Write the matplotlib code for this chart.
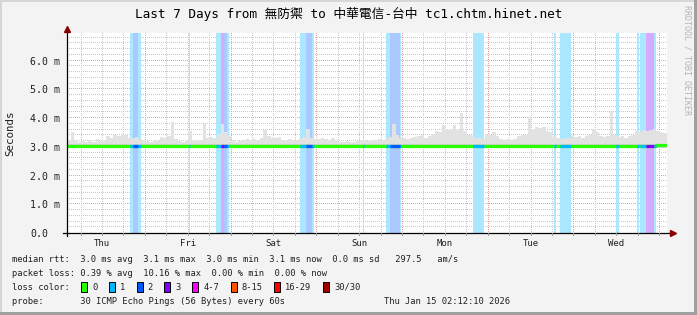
import numpy as np
import matplotlib
matplotlib.use("Agg")
from matplotlib import pyplot as plt
from matplotlib.patches import Rectangle

plt.rcParams['font.family'] = ['DejaVu Sans Mono', 'Noto Sans CJK TC']

########
# Data #
########

title = "Last 7 Days from 無防禦 to 中華電信-台中 tc1.chtm.hinet.net"
day_names = ["Thu", "Fri", "Sat", "Sun", "Mon", "Tue", "Wed"]
start_clock = 2 + 12 / 60 + 10 / 3600   # graph starts at 02:12:10
span_hours = 168

# top of the smoke, one value per hour (ms)
smoke_hi = [
    3.20, 3.52, 3.22, 3.18, 3.20, 3.16, 3.22, 3.18, 3.28, 3.20, 3.22, 3.36,
    3.30, 3.42, 3.38, 3.45, 3.40, 3.32, 3.30, 3.34, 3.28, 3.22, 3.20, 3.18,
    3.22, 3.20, 3.34, 3.30, 3.38, 3.86, 3.26, 3.20, 3.18, 3.22, 3.56, 3.22,
    3.20, 3.24, 3.78, 3.32, 3.34, 3.30, 3.46, 3.80, 3.50, 3.36, 3.22, 3.18,
    3.20, 3.22, 3.26, 3.24, 3.28, 3.22, 3.30, 3.60, 3.36, 3.32, 3.30, 3.34,
    3.24, 3.22, 3.26, 3.24, 3.22, 3.30, 3.34, 3.62, 3.30, 3.28, 3.26, 3.30,
    3.28, 3.24, 3.30, 3.22, 3.18, 3.16, 3.20, 3.18, 3.16, 3.20, 3.24, 3.22,
    3.20, 3.24, 3.22, 3.26, 3.22, 3.28, 3.34, 3.80, 3.40, 3.30, 3.32, 3.28,
    3.30, 3.34, 3.36, 3.40, 3.32, 3.38, 3.44, 3.56, 3.50, 3.76, 3.58, 3.62,
    3.76, 3.60, 4.19, 3.55, 3.42, 3.40, 3.30, 3.32, 3.28, 3.42, 3.40, 3.50,
    3.36, 3.26, 3.24, 3.28, 3.22, 3.26, 3.38, 3.42, 3.40, 4.02, 3.62, 3.70,
    3.64, 3.68, 3.56, 3.50, 3.34, 3.30, 3.28, 3.32, 3.30, 3.36, 3.34, 3.38,
    3.32, 3.36, 3.40, 3.62, 3.50, 3.36, 3.34, 3.38, 4.26, 3.40, 3.34, 3.36,
    3.32, 3.38, 3.40, 3.56, 3.52, 3.60, 3.55, 3.58, 3.62, 3.54, 3.50, 3.48,
]
median = [3.03] * 165 + [3.07, 3.07, 3.07]
smoke_lo = 2.97
smoke_core = 3.10

# loss periods (hours from start) and loss count
loss_start = [17.6, 18.5, 34.1, 41.7, 43.1, 44.0, 65.2, 66.9, 82.8, 89.3,
              90.5, 113.7, 136.4, 138.1, 153.7, 159.6, 160.5, 161.3, 162.1, 164.4]
loss_end = [20.7, 19.9, 34.5, 45.4, 44.0, 44.8, 69.2, 68.6, 83.2, 93.5,
            93.2, 116.8, 137.0, 141.1, 154.6, 160.2, 161.3, 162.1, 164.4, 165.0]
loss_level = [1, 2, 1, 1, 3, 2, 1, 2, 1, 1, 2, 1, 1, 1, 1, 1, 1, 1, 3, 1]

loss_names = ["0", "1", "2", "3", "4-7", "8-15", "16-29", "30/30"]
loss_colors = ["#26ff00", "#00b8ff", "#0059ff", "#7e00ff",
               "#ff00ff", "#ff5500", "#ff0000", "#a00000"]

y_ticks = [0, 1, 2, 3, 4, 5, 6]
y_labels = ["0.0", "1.0 m", "2.0 m", "3.0 m", "4.0 m", "5.0 m", "6.0 m"]
y_top = 6.96

rtt_line = "median rtt:  3.0 ms avg  3.1 ms max  3.0 ms min  3.1 ms now  0.0 ms sd   297.5   am/s"
loss_line = "packet loss: 0.39 % avg  10.16 % max  0.00 % min  0.00 % now"
probe_line = "probe:       30 ICMP Echo Pings (56 Bytes) every 60s"
stamp = "Thu Jan 15 02:12:10 2026"

##########
# Script #
##########

W, H = 697, 315
PW, PH = 600, 200   # plot area in pixels

def fx(x):
    return x / W

def fy(y):
    return 1 - y / H

# light version of a colour, as if drawn with alpha over white
def pale(c, a=0.33):
    r, g, b = matplotlib.colors.to_rgb(c)
    return (1 - a + a * r, 1 - a + a * g, 1 - a + a * b)

fig = plt.figure(figsize=(W / 100, H / 100), dpi=100, facecolor="#f3f3f3")
ax = fig.add_axes([fx(67), fy(233), PW / W, PH / H])
ax.set_facecolor("white")
ax.set_xlim(0, span_hours)
ax.set_ylim(0, y_top)
for s in ax.spines.values():
    s.set_visible(False)

# dotted grid as a pixel image (1 px on, 1 px off)
grid_minor = matplotlib.colors.to_rgba("#c8c8c8")
grid_major = matplotlib.colors.to_rgba("#e8a0a0")
grid = np.zeros((PH, PW, 4))

first_mid = 24 - start_clock
six = np.arange(first_mid - 18, span_hours, 6)
for v in np.arange(0.2, y_top, 0.2):
    major = abs(v - round(v)) < 1e-6
    row = PH - 1 - int(round(v * PH / y_top))
    grid[row, ::2] = grid_major if major else grid_minor
for t in six:
    if t <= 0:
        continue
    is_mid = abs(((t - first_mid) / 24) - round((t - first_mid) / 24)) < 1e-6
    col = int(round(t * PW / span_hours))
    grid[::2, col] = grid_major if is_mid else grid_minor
ax.imshow(grid, extent=(0, span_hours, 0, y_top), aspect="auto",
          interpolation="nearest", zorder=1)

# loss background
for s, e, lv in zip(loss_start, loss_end, loss_level):
    ax.axvspan(s, e, color=pale(loss_colors[lv]), lw=0, zorder=2)

# smoke
edges = np.arange(len(smoke_hi) + 1)
hi = np.append(smoke_hi, smoke_hi[-1])
ax.fill_between(edges, smoke_lo, hi, step="post", color="#e2e2e2", lw=0, zorder=3)
ax.fill_between(edges, smoke_lo, smoke_core, step="post", color="#d2d2d2", lw=0, zorder=3)

# median line, coloured by loss
med = np.append(median, median[-1])
ax.step(edges, med, where="post", color=loss_colors[0], lw=2.3, zorder=4)
for s, e, lv in zip(loss_start, loss_end, loss_level):
    ax.hlines(median[int(s)], s, e, color=loss_colors[lv], lw=2.3, zorder=5)

# axes with arrows
ax.plot([-0.007 * span_hours, 1.01 * span_hours], [0, 0], color="black",
        lw=0.9, clip_on=False, zorder=6)
ax.plot([0, 0], [-0.1, y_top * 1.015], color="black", lw=0.9, clip_on=False, zorder=6)
ax.plot([1.01 * span_hours], [0], marker=">", ms=4.5, color="#8b0000",
        clip_on=False, zorder=7)
ax.plot([0], [y_top * 1.02], marker="^", ms=4.5, color="#8b0000",
        clip_on=False, zorder=7)
for t in six:
    if 0 < t < span_hours:
        ax.plot([t, t], [-0.07, 0], color="#999999", lw=0.7, clip_on=False, zorder=6)

# ticks and labels
ax.set_xlim(0, span_hours)
ax.set_ylim(0, y_top)
noons = first_mid - 12 + 24 * np.arange(len(day_names))
ax.set_xticks(noons, day_names, fontsize=6.5)
ax.tick_params(axis="x", length=0, pad=4.5, colors="#202020")
ax.set_yticks(y_ticks, y_labels, fontsize=7.1)
ax.tick_params(axis="y", length=0, pad=26.6, colors="#202020")
for lab in ax.get_yticklabels():
    lab.set_ha("left")

fig.text(fx(10), fy(133), "Seconds", rotation=90, ha="center", va="center",
         fontsize=7.8, color="#202020")
fig.text(fx(348.5), fy(14), title, ha="center", va="center", fontsize=9.2)
fig.text(fx(687), fy(5), "RRDTOOL / TOBI OETIKER", rotation=270, ha="center",
         va="top", fontsize=6, color="#b4b4b4")

# legend block
leg = dict(fontsize=6.35, va="center", color="#202020")
fig.text(fx(12), fy(259), rtt_line, ha="left", **leg)
fig.text(fx(12), fy(273), loss_line, ha="left", **leg)
fig.text(fx(12), fy(287), "loss color:", ha="left", **leg)
fig.text(fx(12), fy(301), probe_line, ha="left", **leg)
fig.text(fx(510), fy(301), stamp, ha="right", **leg)

bx = 81
for name, col in zip(loss_names, loss_colors):
    fig.patches.append(Rectangle((fx(bx), fy(292)), 6 / W, 10 / H, facecolor=col,
                                 edgecolor="black", lw=0.7, transform=fig.transFigure))
    fig.text(fx(bx + 11), fy(287), name, ha="left", **leg)
    bx = bx + 11 + len(name) * 5.3 + 11.5

# image frame
fig.patches.append(Rectangle((0, 0), fx(2), 1, facecolor="#d6d6d6", lw=0,
                             transform=fig.transFigure))
fig.patches.append(Rectangle((0, fy(2)), 1, 2 / H, facecolor="#d6d6d6", lw=0,
                             transform=fig.transFigure))
fig.patches.append(Rectangle((fx(694), 0), 3 / W, 1, facecolor="#a0a0a0", lw=0,
                             transform=fig.transFigure))
fig.patches.append(Rectangle((0, 0), 1, 3 / H, facecolor="#a0a0a0", lw=0,
                             transform=fig.transFigure))

fig.savefig("out.png", dpi=100, facecolor=fig.get_facecolor())
